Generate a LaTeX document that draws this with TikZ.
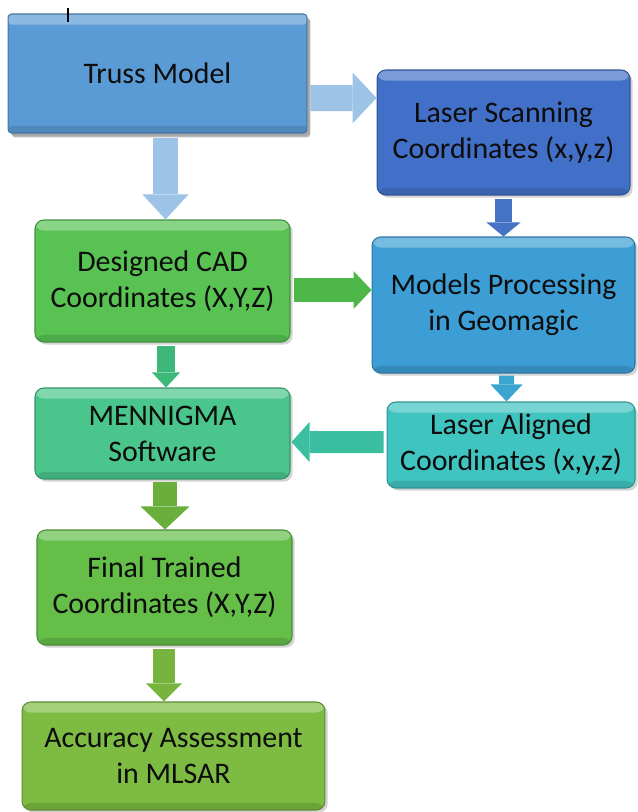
\documentclass[tikz,border=0pt]{standalone}
\usepackage{fontspec}
\setmainfont{Carlito}
\usepackage{tikz}
\usetikzlibrary{positioning, calc, arrows.meta, shadows}
\definecolor{trussc}{RGB}{91,155,213}
\definecolor{lscanc}{RGB}{66,112,200}
\definecolor{cadc}{RGB}{88,194,82}
\definecolor{modelsc}{RGB}{60,158,212}
\definecolor{mennc}{RGB}{74,198,140}
\definecolor{lalignc}{RGB}{64,196,192}
\definecolor{finalc}{RGB}{100,190,72}
\definecolor{accc}{RGB}{125,187,66}
\definecolor{arrlight}{RGB}{157,195,230}
\definecolor{arrblue}{RGB}{68,114,196}
\definecolor{arrgreen}{RGB}{77,184,72}
\definecolor{arrteal}{RGB}{61,184,120}
\definecolor{arrcyan}{RGB}{58,166,208}
\definecolor{arrsea}{RGB}{60,190,160}
\definecolor{arrolive}{RGB}{106,175,60}
\definecolor{arrolivetwo}{RGB}{118,180,61}

\begin{document}
\begin{tikzpicture}[x=0.02cm, y=-0.02cm,
  box/.style={rounded corners=5pt, fill=#1, draw=#1!75!black, line width=0.6pt,
    align=center, text=black!95, font=\fontsize{17}{20.5}\selectfont, inner sep=0pt,
    drop shadow={shadow xshift=1.5pt, shadow yshift=-1.5pt, opacity=0.35},
    path picture={
      \fill[white, opacity=0.3] (path picture bounding box.north west) rectangle ([yshift=-6pt]path picture bounding box.north east);
      \fill[black, opacity=0.12] (path picture bounding box.south west) rectangle ([yshift=4pt]path picture bounding box.south east);}},
  flow/.style n args={4}{draw=#1, line width=#2, -{Triangle[width=#3, length=#4, line width=0pt]}}]

\useasboundingbox (0,0) rectangle (638,812);

%% ── boxes ────────────────────────────────────────────────────────
\node[box=trussc, rounded corners=2pt, drop shadow={shadow xshift=2pt, shadow yshift=-2.5pt, opacity=0.55},
      minimum width=5.98cm, minimum height=2.38cm] (truss)  at (157.5,73.5) {Truss Model};
\node[box=lscanc,  minimum width=5.06cm, minimum height=2.5cm]  (lscan)  at (503.5,132.5) {Laser Scanning\\Coordinates (x,y,z)};
\node[box=cadc,    minimum width=5.1cm,  minimum height=2.44cm] (cad)    at (162.5,281) {Designed CAD\\Coordinates (X,Y,Z)};
\node[box=modelsc, minimum width=5.26cm, minimum height=2.72cm] (models) at (503.5,305) {Models Processing\\in Geomagic};
\node[box=mennc,   minimum width=5.1cm,  minimum height=1.82cm] (menn)   at (162.5,433.5) {MENNIGMA\\Software};
\node[box=lalignc, minimum width=4.96cm, minimum height=1.72cm] (lalign) at (511,445) {Laser Aligned\\Coordinates (x,y,z)};
\node[box=finalc,  minimum width=5.1cm,  minimum height=2.3cm]  (final)  at (164.5,587.5) {Final Trained\\Coordinates (X,Y,Z)};
\node[box=accc,    minimum width=6.06cm, minimum height=2.16cm] (acc)    at (173.5,756) {Accuracy Assessment\\in MLSAR};

%% ── cursor tick ──────────────────────────────────────────────────
\draw[line width=0.8pt] (68,8) -- (68,22);

%% ── block arrows ─────────────────────────────────────────────────
\draw[flow={arrlight}{0.52cm}{1.02cm}{0.48cm}] ([shift={(3,24.5)}]truss.east) -- ([shift={(0,-34.5)}]lscan.west);
\draw[flow={arrlight}{0.5cm}{0.92cm}{0.5cm}]   ([shift={(8,4)}]truss.south) -- ([shift={(3,0)}]cad.north);
\draw[flow={arrblue}{0.34cm}{0.68cm}{0.28cm}]  ([shift={(0,3)}]lscan.south) -- (models.north);
\draw[flow={arrgreen}{0.48cm}{0.76cm}{0.36cm}] ([shift={(3,9)}]cad.east) -- ([shift={(0,-15)}]models.west);
\draw[flow={arrteal}{0.36cm}{0.56cm}{0.3cm}]   ([shift={(3.5,3)}]cad.south) -- ([shift={(3.5,0)}]menn.north);
\draw[flow={arrcyan}{0.3cm}{0.64cm}{0.34cm}]   ([shift={(3,2)}]models.south) -- ([shift={(-4.5,0)}]lalign.north);
\draw[flow={arrsea}{0.44cm}{0.8cm}{0.36cm}]    ([shift={(-3,-3)}]lalign.west) -- ([shift={(1,8.5)}]menn.east);
\draw[flow={arrolive}{0.48cm}{0.98cm}{0.46cm}] ([shift={(2.5,2)}]menn.south) -- ([shift={(0.5,0)}]final.north);
\draw[flow={arrolivetwo}{0.44cm}{0.72cm}{0.36cm}] ([shift={(-0.5,3)}]final.south) -- ([shift={(-9.5,0)}]acc.north);

\end{tikzpicture}
\end{document}
